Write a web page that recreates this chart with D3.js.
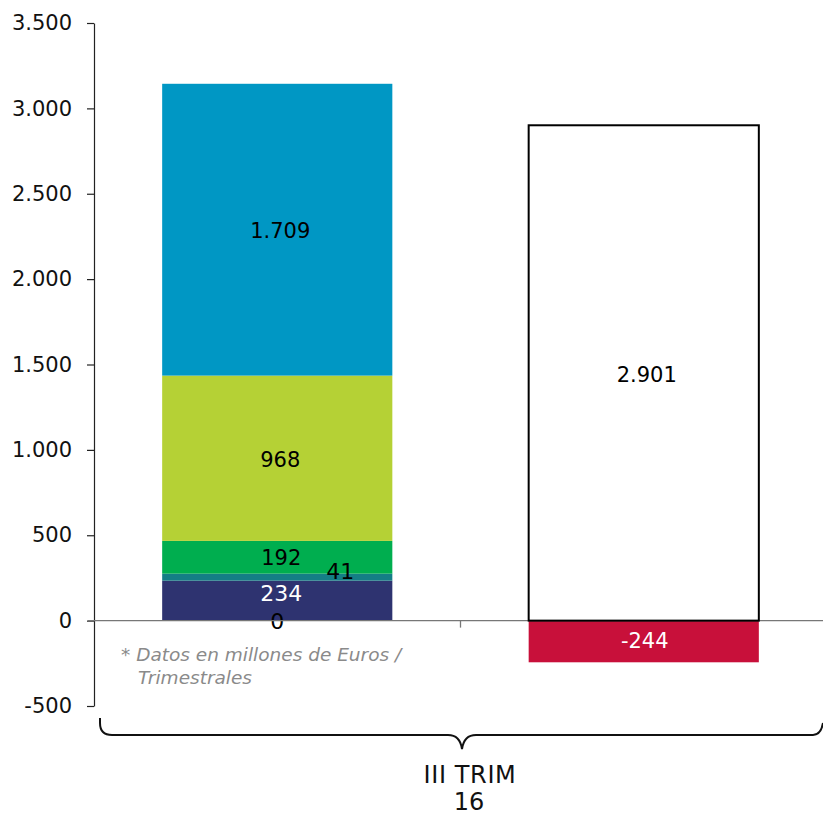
<!DOCTYPE html>
<html>
<head>
<meta charset="utf-8">
<script src="https://cdn.jsdelivr.net/npm/d3@7"></script>
<style>
  html, body { margin: 0; padding: 0; background: #fff; }
  svg { display: block; font-family: "DejaVu Sans", Verdana, sans-serif; }
</style>
</head>
<body>
<svg id="chart" width="823" height="815"></svg>
<script>
// Quarterly figures (millions of euros)
const categories = ["III TRIM 16"];
const categoryLines = ["III TRIM", "16"];
const columns = ["A", "B"];

// Left column: stacked components
const stackNames = ["zero", "navy", "teal", "green", "lime", "blue"];
const stackValues = [0, 234, 41, 192, 968, 1709];
const stackColors = ["#2e3370", "#2e3370", "#147e86", "#00ae4f", "#b5d135", "#0097c4"];
const stackLabelColors = ["#000", "#fff", "#000", "#000", "#000", "#000"];

// Right column: total and negative component
const rightValues = [2901, -244];

const yTicks = [-500, 0, 500, 1000, 1500, 2000, 2500, 3000, 3500];
const fmt = v => d3.format(",")(v).replace(/,/g, ".").replace(/\u2212/g, "-");

const svg = d3.select("#chart");

const y = d3.scaleLinear().domain([-500, 3500]).range([706, 23]);
const x = d3.scalePoint().domain(columns).range([94, 827]).padding(0.5);
const step = x.step();
const barW = step * 0.628;

// Y axis
const yAxis = d3.axisLeft(y).tickValues(yTicks).tickFormat(fmt).tickSize(7).tickSizeOuter(0);
const gy = svg.append("g").attr("transform", "translate(94,0)").call(yAxis);
gy.select(".domain").attr("stroke", "#222").attr("stroke-width", 1.2);
gy.selectAll(".tick line").attr("stroke", "#222").attr("stroke-width", 1.2);
gy.selectAll(".tick text").attr("font-size", 21).attr("fill", "#111").attr("x", -22)
  .attr("font-family", "DejaVu Sans, Verdana, sans-serif");

// Stacked bar (left)
let cum = 0;
const stackData = stackValues.map((v, i) => {
  const d = { name: stackNames[i], value: v, y0: cum, y1: cum + v, color: stackColors[i], lc: stackLabelColors[i] };
  cum += v;
  return d;
});

const cx1 = x("A");
svg.append("g").selectAll("rect").data(stackData.filter(d => d.value > 0)).join("rect")
  .attr("x", cx1 - barW / 2)
  .attr("width", barW)
  .attr("y", d => y(d.y1))
  .attr("height", d => y(d.y0) - y(d.y1))
  .attr("fill", d => d.color);

// label offsets for the thin segments
const labelShift = { zero: [0, 1], navy: [4, -7], teal: [63, -6], green: [4, 1], lime: [3, 2], blue: [3, 1] };
svg.append("g").selectAll("text").data(stackData).join("text")
  .attr("x", d => cx1 + labelShift[d.name][0])
  .attr("y", d => y((d.y0 + d.y1) / 2) + labelShift[d.name][1])
  .attr("text-anchor", "middle")
  .attr("dominant-baseline", "central")
  .attr("font-size", d => (d.name === "zero" || d.name === "navy" || d.name === "teal") ? 22 : 21)
  .attr("fill", d => d.lc)
  .text(d => fmt(d.value));

// Right column: negative part
const cx2 = x("B");
svg.append("rect")
  .attr("x", cx2 - barW / 2).attr("width", barW)
  .attr("y", y(0)).attr("height", y(rightValues[1]) - y(0))
  .attr("fill", "#c8103a");

// Zero baseline and category divider tick
svg.append("line")
  .attr("x1", 88).attr("x2", 823).attr("y1", y(0)).attr("y2", y(0))
  .attr("stroke", "#777").attr("stroke-width", 1.3);
svg.append("line")
  .attr("x1", 94 + step).attr("x2", 94 + step).attr("y1", y(0)).attr("y2", y(0) + 7)
  .attr("stroke", "#777").attr("stroke-width", 1.3);

// Right column: total (outlined)
svg.append("rect")
  .attr("x", cx2 - barW / 2).attr("width", barW)
  .attr("y", y(rightValues[0])).attr("height", y(0) - y(rightValues[0]))
  .attr("fill", "#fff").attr("stroke", "#000").attr("stroke-width", 2);

svg.append("text")
  .attr("x", cx2 + 3).attr("y", y(rightValues[0] / 2) + 2)
  .attr("text-anchor", "middle").attr("dominant-baseline", "central")
  .attr("font-size", 21).attr("fill", "#000")
  .text(fmt(rightValues[0]));
svg.append("text")
  .attr("x", cx2 + 1).attr("y", y(rightValues[1] / 2))
  .attr("text-anchor", "middle").attr("dominant-baseline", "central")
  .attr("font-size", 21).attr("fill", "#fff")
  .text(fmt(rightValues[1]));

// Footnote
const note = svg.append("text")
  .attr("font-size", 18.5).attr("font-style", "italic").attr("fill", "#8a8a8a");
note.append("tspan").attr("x", 121).attr("y", 661).text("* Datos en millones de Euros /");
note.append("tspan").attr("x", 138).attr("y", 684).text("Trimestrales");

// Category brace
const bx0 = 100, bx1 = 823, by = 735, tipX = 462, tipY = 749, r = 12;
const brace = d3.path();
brace.moveTo(bx0, 718);
brace.lineTo(bx0, by - r);
brace.quadraticCurveTo(bx0, by, bx0 + r, by);
brace.lineTo(tipX - 14, by);
brace.quadraticCurveTo(tipX - 2, by, tipX, tipY);
brace.quadraticCurveTo(tipX + 2, by, tipX + 14, by);
brace.lineTo(bx1 - 10, by);
brace.quadraticCurveTo(bx1 - 2, by, bx1, by - 12);
svg.append("path").attr("d", brace.toString())
  .attr("fill", "none").attr("stroke", "#111").attr("stroke-width", 2);

const cat = svg.append("text").attr("text-anchor", "middle")
  .attr("font-size", 24).attr("fill", "#111");
cat.append("tspan").attr("x", 470).attr("y", 783).attr("letter-spacing", 0.6).text(categoryLines[0]);
cat.append("tspan").attr("x", 469).attr("y", 810).text(categoryLines[1]);
</script>
</body>
</html>
